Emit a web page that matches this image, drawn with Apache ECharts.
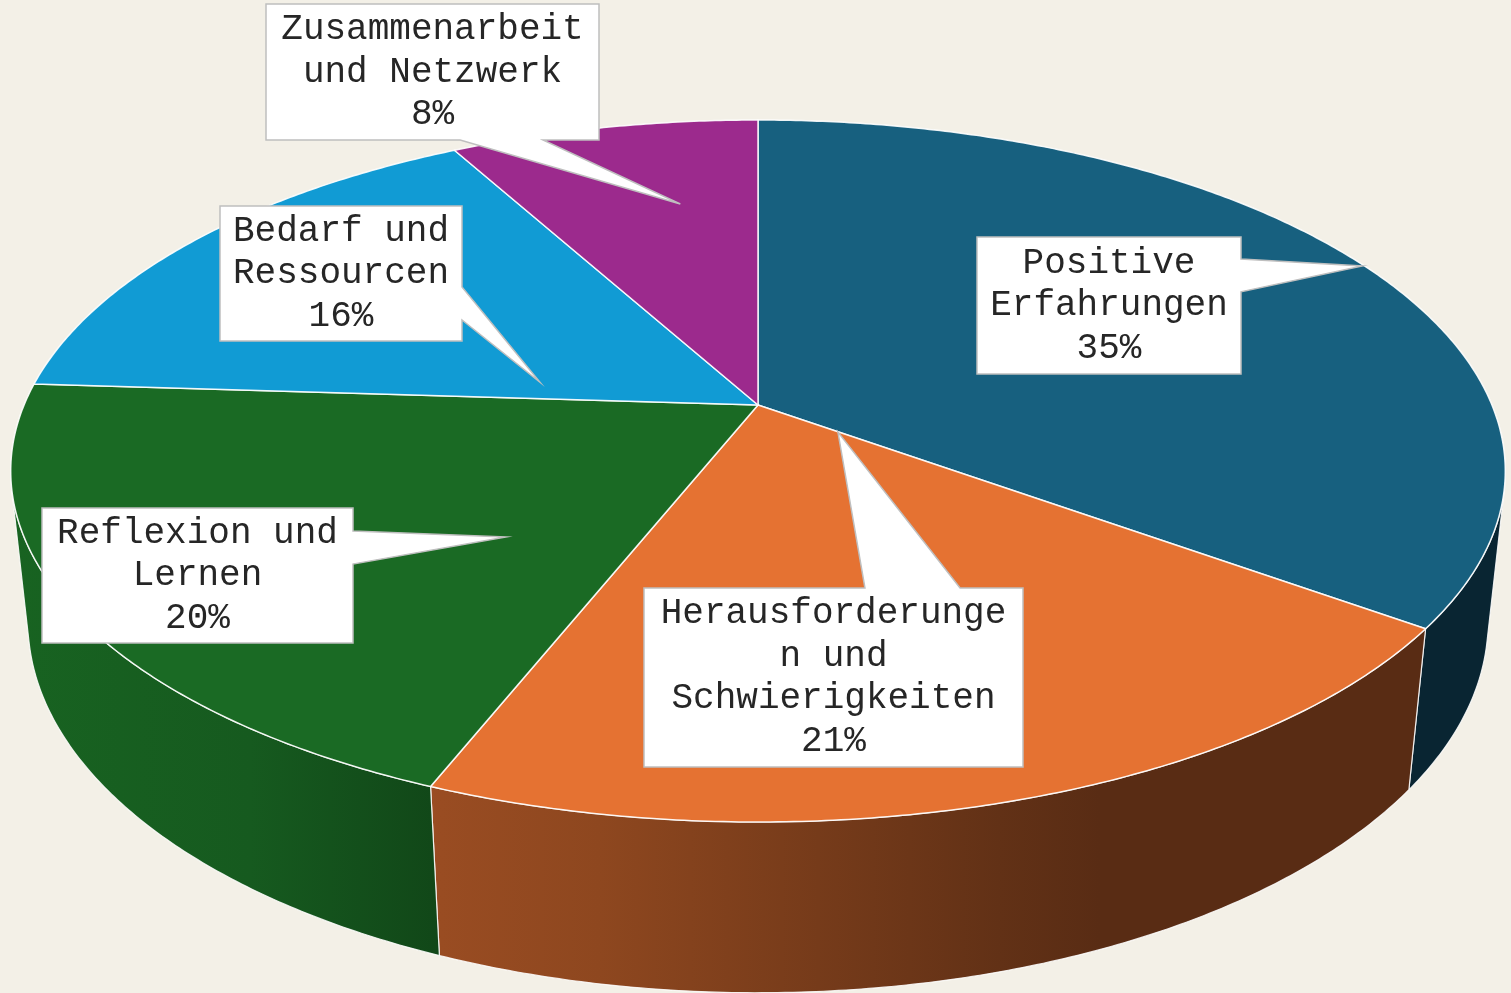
<!DOCTYPE html>
<html>
<head>
<meta charset="utf-8">
<script src="https://cdn.jsdelivr.net/npm/echarts@6/dist/echarts.min.js"></script>
<style>
  html, body { margin: 0; padding: 0; background: #f3f0e7; }
  #chart { width: 1511px; height: 993px; }
</style>
</head>
<body>
<div id="chart"></div>
<script>
// data
const categories = ['Positive Erfahrungen', 'Herausforderungen und Schwierigkeiten', 'Reflexion und Lernen', 'Bedarf und Ressourcen', 'Zusammenarbeit und Netzwerk'];
const values = [35, 21, 20, 16, 8];
const colors = ['#17607f', '#e57232', '#1a6a24', '#119bd4', '#9c2a8d'];

// callout layout: box [x, y, w, h], side of the pointer, pointer base (fraction of the side),
// pointer tip as [fraction of slice angle, fraction of radius], wrap width in chars
const callouts = [
  {box: [977, 237, 264, 137], side: 'right', base: [0.16, 0.40], tip: [0.504, 0.997], wrap: 11},
  {box: [644, 588, 379, 179], side: 'top', base: [0.583, 0.834], tip: [0.003, 0.133], wrap: 16},
  {box: [42, 508, 311, 135], side: 'right', base: [0.17, 0.415], tip: [0.275, 0.484], wrap: 13},
  {box: [220, 206, 242, 135], side: 'right', base: [0.6, 0.844], tip: [0.161, 0.309], wrap: 10},
  {box: [266, 4, 333, 136], side: 'bottom', base: [0.583, 0.832], tip: [0.649, 0.679], wrap: 14}
];

// perspective camera for the 3d pie
const cam = {cx: 758, cy: 405, R: 0.212, F: 3462, sin: 0.4613, cos: 0.8872, H: 0.0495};

function project(theta, r, w) {
  const u = r * cam.R * Math.sin(theta);
  const v = -r * cam.R * Math.cos(theta);
  const depth = 1 - v * cam.cos - w * cam.sin;
  const sx = cam.F * u / depth;
  const sy = cam.F * (-v * cam.sin + w * cam.cos) / depth;
  return [cam.cx + sx, cam.cy - sy];
}

function arc(t0, t1, w) {
  const pts = [];
  const n = Math.max(2, Math.ceil(Math.abs(t1 - t0) / (Math.PI / 360)));
  for (let i = 0; i <= n; i++) pts.push(project(t0 + (t1 - t0) * i / n, 1, w));
  return pts;
}

function shade(hex, f) {
  const n = parseInt(hex.slice(1), 16);
  const r = Math.round(((n >> 16) & 255) * f);
  const g = Math.round(((n >> 8) & 255) * f);
  const b = Math.round((n & 255) * f);
  return 'rgb(' + r + ',' + g + ',' + b + ')';
}

function wallFill(hex) {
  const x0 = 12, x1 = 1505;
  const stops = [[12, 0.93], [250, 0.85], [440, 0.67], [600, 0.62], [1000, 0.43], [1100, 0.39], [1505, 0.39]];
  return {
    type: 'linear', x: x0, y: 0, x2: x1, y2: 0, global: true,
    colorStops: stops.map(s => ({offset: (s[0] - x0) / (x1 - x0), color: shade(hex, s[1])}))
  };
}

function wrapText(text, max) {
  const lines = [];
  let cur = '';
  text.split(' ').forEach(word => {
    while (word.length > max) {
      if (cur) { lines.push(cur); cur = ''; }
      lines.push(word.slice(0, max));
      word = word.slice(max);
    }
    if (!cur) cur = word;
    else if ((cur + ' ' + word).length <= max) cur += ' ' + word;
    else { lines.push(cur); cur = word; }
  });
  if (cur) lines.push(cur);
  return lines.join('\n');
}

function calloutPoints(c, tip) {
  const [x, y, w, h] = c.box;
  const pts = [[x, y]];
  if (c.side === 'top') pts.push([x + w * c.base[0], y], tip, [x + w * c.base[1], y]);
  pts.push([x + w, y]);
  if (c.side === 'right') pts.push([x + w, y + h * c.base[0]], tip, [x + w, y + h * c.base[1]]);
  pts.push([x + w, y + h]);
  if (c.side === 'bottom') pts.push([x + w * c.base[1], y + h], tip, [x + w * c.base[0], y + h]);
  pts.push([x, y + h]);
  return pts;
}

const total = values.reduce((a, b) => a + b, 0);
const visA = Math.acos(-cam.R / cam.cos);
const visB = 2 * Math.PI - visA;

const chart = echarts.init(document.getElementById('chart'));
chart.setOption({
  backgroundColor: '#f3f0e7',
  animation: false,
  series: [{
    type: 'custom',
    coordinateSystem: 'none',
    data: values.map((v, i) => ({name: categories[i], value: v})),
    renderItem(params, api) {
      const i = params.dataIndex;
      const before = values.slice(0, i).reduce((a, b) => a + b, 0);
      const t0 = before / total * 2 * Math.PI;
      const t1 = (before + api.value(0)) / total * 2 * Math.PI;
      const children = [];

      // outer wall (only the part facing the viewer)
      const w0 = Math.max(t0, visA), w1 = Math.min(t1, visB);
      if (w1 > w0) {
        const pts = arc(w0, w1, 0).concat(arc(w1, w0, -cam.H));
        children.push({
          type: 'polygon', z2: 1,
          shape: {points: pts},
          style: {fill: wallFill(colors[i]), stroke: 'rgba(255,255,255,0.85)', lineWidth: 1.2, lineJoin: 'round'}
        });
      }

      // top face
      const top = [project(0, 0, 0)].concat(arc(t0, t1, 0));
      children.push({
        type: 'polygon', z2: 2,
        shape: {points: top},
        style: {fill: colors[i], stroke: 'rgba(255,255,255,0.9)', lineWidth: 1.5, lineJoin: 'round'}
      });

      // callout label
      const c = callouts[i];
      const tip = project(t0 + (t1 - t0) * c.tip[0], c.tip[1], 0);
      children.push({
        type: 'polygon', z2: 3,
        shape: {points: calloutPoints(c, tip)},
        style: {fill: '#ffffff', stroke: '#bfbfbf', lineWidth: 1.5}
      });
      const pct = Math.round(api.value(0) / total * 100) + '%';
      children.push({
        type: 'text', z2: 4,
        style: {
          text: wrapText(categories[i], c.wrap) + '\n' + pct,
          x: c.box[0] + c.box[2] / 2,
          y: c.box[1] + c.box[3] / 2,
          align: 'center', verticalAlign: 'middle',
          font: '36px "Courier New", "Liberation Mono", monospace',
          lineHeight: 42.5,
          fill: '#262626'
        }
      });
      return {type: 'group', children};
    }
  }]
});
</script>
</body>
</html>
